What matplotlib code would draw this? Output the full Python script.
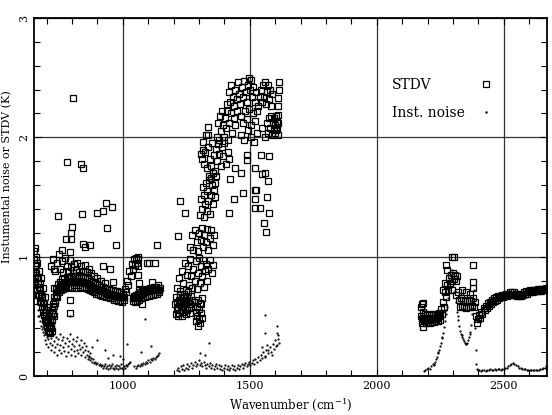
import numpy as np
import matplotlib
matplotlib.use("Agg")
import matplotlib.pyplot as plt
from matplotlib.ticker import MultipleLocator

plt.rcParams['font.family'] = ['DejaVu Serif']
plt.rcParams['mathtext.fontset'] = 'dejavuserif'

# ---------------- STDV (squares) ----------------
# band 1 (650-1054)
stdv1_x = [650,654,658,662,666,670,674,678,682,686,690,694,698,702,706,710,714,718,722,726,
           730,734,738,742,746,750,754,758,762,766,770,774,778,782,786,790,794,798,802,806,
           810,814,818,822,826,830,834,838,842,846,850,854,858,862,866,870,874,878,882,886,
           890,894,898,902,906,910,914,918,922,926,930,934,938,942,946,950,954,958,962,966,
           970,974,978,982,986,990,994,998,1002,1006,1010,1014,1018,1022,1026,1030,1034,1038,1042,1046,
           1050,1054]
stdv1_y = [1.05,0.79,0.93,0.72,0.83,0.68,0.78,0.62,0.67,0.54,0.61,0.47,0.55,0.41,0.48,0.37,0.47,0.40,0.55,0.52,
           0.66,0.61,0.73,0.66,0.77,0.70,0.79,0.72,0.81,0.73,0.82,0.74,0.83,0.75,0.82,0.74,0.84,0.75,0.83,0.76,
           0.84,0.74,0.83,0.76,0.85,0.75,0.84,0.74,0.83,0.75,0.82,0.74,0.83,0.73,0.81,0.72,0.80,0.71,0.79,0.70,
           0.78,0.69,0.77,0.69,0.76,0.68,0.75,0.67,0.75,0.67,0.74,0.66,0.73,0.66,0.73,0.65,0.72,0.65,0.72,0.64,
           0.71,0.64,0.71,0.63,0.70,0.63,0.70,0.62,0.69,0.64,0.73,0.70,0.80,0.76,0.88,0.84,0.94,0.90,0.98,0.93,
           0.99,0.95]
# band 1, middle of the band (652-1004)
stdv1m_x = [652,656,660,664,668,672,676,680,684,688,692,696,700,704,708,712,716,720,724,728,
            732,736,740,744,748,752,756,760,764,768,772,776,780,784,788,792,796,800,804,808,
            812,816,820,824,828,832,836,840,844,848,852,856,860,864,868,872,876,880,884,888,
            892,896,900,904,908,912,916,920,924,928,932,936,940,944,948,952,956,960,964,968,
            972,976,980,984,988,992,996,1000,1004]
stdv1m_y = [0.90,0.86,0.82,0.78,0.75,0.72,0.69,0.65,0.61,0.58,0.54,0.50,0.47,0.44,0.42,0.41,0.43,0.47,0.53,0.59,
            0.63,0.67,0.70,0.72,0.74,0.75,0.76,0.77,0.77,0.78,0.78,0.79,0.79,0.79,0.79,0.79,0.80,0.80,0.80,0.80,
            0.79,0.79,0.80,0.80,0.80,0.79,0.79,0.79,0.79,0.78,0.78,0.78,0.78,0.77,0.76,0.76,0.75,0.75,0.74,0.74,
            0.73,0.73,0.73,0.72,0.72,0.71,0.71,0.71,0.70,0.70,0.70,0.69,0.69,0.69,0.69,0.68,0.68,0.68,0.68,0.67,
            0.67,0.67,0.67,0.66,0.66,0.66,0.66,0.66,0.66]
# band 1, lower branch (1038-1146)
stdv1b_x = [1038,1042,1046,1050,1054,1058,1062,1066,1070,1074,1078,1082,1086,1090,1094,1098,1102,1106,1110,1114,
            1118,1122,1126,1130,1134,1138,1142,1146,1058,1060,1062,1058,1064,1060,
            1040,1044,1048,1052,1056,1060,1064,1068,1072,1076,1080,1084,1088,1092,1096,1100,1104,1108,1112,1116,
            1120,1124,1128,1132,1136,1140,1144]
stdv1b_y = [0.63,0.67,0.62,0.68,0.63,0.69,0.64,0.70,0.65,0.71,0.66,0.72,0.66,0.73,0.67,0.73,0.67,0.74,0.68,0.74,
            0.68,0.75,0.69,0.75,0.69,0.76,0.70,0.74,0.92,0.85,0.78,0.98,0.72,1.00,
            0.65,0.65,0.66,0.66,0.67,0.67,0.68,0.68,0.69,0.69,0.70,0.70,0.70,0.71,0.71,0.71,0.71,0.72,0.72,0.72,
            0.72,0.73,0.73,0.73,0.72,0.72,0.72]
# start column, fill of the dip and scatter above band 1
stdv1c_x = [650,651,652,653,654,655,656,716,724,732,740,748,752,760,766,772,778,784,790,796,
            802,808,814,820,826,834,842,850,858,866,876,886,898,912,930,
            660,664,668,672,676,680,684,688,692,696,700,704,708,712,716,720,724,728]
stdv1c_y = [0.72,0.98,0.85,1.07,0.92,0.76,1.00,0.92,0.98,0.88,0.95,1.02,0.90,0.96,0.87,0.99,0.92,0.88,0.97,0.91,
            0.86,0.94,0.89,0.95,0.87,0.92,0.88,0.93,0.87,0.90,0.86,0.84,0.82,0.80,0.78,
            0.95,0.68,0.88,0.63,0.82,0.58,0.74,0.51,0.66,0.45,0.58,0.38,0.52,0.36,0.50,0.38,0.60,0.50]
# outliers region 1
stdv1o_x = [804,780,835,843,745,839,898,922,934,957,800,796,776,796,938,973,843,871,851,760,
            792,922,950,961,792,792,729,729,1135,1095,1127,1103,1115,1075]
stdv1o_y = [2.33,1.79,1.78,1.74,1.34,1.36,1.37,1.38,1.45,1.42,1.25,1.20,1.15,1.15,1.24,1.10,1.11,1.10,1.08,1.06,
            1.04,0.92,0.90,0.79,0.53,0.64,0.74,0.90,1.10,0.95,0.95,0.95,0.79,0.60]

# region 2 (1206-1620)
stdv2_x = [1206,1208,1210,1212,1214,1216,1218,1220,1222,1224,1226,1228,1230,1232,1234,1236,1238,1240,1242,1244,
           1246,1248,1250,1252,1254,1256,1258,1260,1262,1264,1266,1268,1270,1272,
           1284,1286,1288,1290,1292,1294,1296,1298,1300,1302,1304,1306,1308,1310,1312,
           1214,1220,1226,1232,1238,1244,1248,1254,1258,1262,1266,1270,1274,1278,1282,1286,1290,1294,1298,1302,
           1306,1310,1314,1318,1322,1326,1330,1336,1342,1350,1356,
           1266,1272,1278,1284,1290,1296,1300,1306,1310,1316,1320,1326,1330,1336,1342,1348,1354,1360,
           1304,1308,1312,1314,1318,1320,1324,1326,1330,1332,1336,1338,1342,1346,1350,1354,1358,1362,
           1340,1348,1356,1364,1368,
           1318,1324,1330,1336,1342,1348,1352,1358,1362,1366,1372,1376,1380,1386,1390,1396,1400,1406,1412,1418,
           1370,1374,1378,1382,1386,1390,1394,1398,1402,1406,1410,1414,1418,1424,1430,1436,1442,1448,
           1410,1416,1420,1426,1432,1436,1442,1448,1452,1458,1462,1468,1474,1478,1484,1490,1494,1498,1502,1506,
           1510,1514,1520,1526,1532,1538,
           1466,1474,1480,1488,1496,1504,1512,1520,1528,
           1544,1548,1552,1556,1560,1564,1568,1572,1576,1580,1584,1588,
           1568,1572,1576,1580,1584,1588,1592,1594,1596,1598,1600,1602,1604,1606,1608,1610,1612,
           1464,1478,1492,1506,1518,1530,1546,1558,
           1306,1316,1316,1326,1336,1336,1310]
stdv2_y = [0.60,0.52,0.66,0.56,0.62,0.50,0.58,0.64,0.53,0.60,0.68,0.55,0.62,0.50,0.58,0.65,0.54,0.61,0.69,0.56,
           0.63,0.52,0.60,0.66,0.55,0.62,0.70,0.57,0.64,0.53,0.60,0.67,0.58,0.64,
           0.62,0.54,0.46,0.58,0.50,0.64,0.42,0.56,0.48,0.61,0.44,0.53,0.60,0.49,0.65,
           0.74,0.82,0.71,0.88,0.78,0.95,0.72,0.85,0.92,0.76,0.98,0.84,0.74,0.90,0.80,0.96,0.73,0.86,0.99,0.78,
           0.92,0.84,0.97,0.75,0.88,0.94,0.80,0.90,0.97,0.86,0.93,
           1.08,1.18,1.06,1.22,1.12,1.05,1.20,1.14,1.24,1.08,1.18,1.12,1.23,1.06,1.16,1.22,1.10,1.18,
           1.35,1.48,1.40,1.58,1.33,1.52,1.44,1.62,1.38,1.55,1.47,1.64,1.36,1.52,1.60,1.44,1.56,1.50,
           1.68,1.66,1.70,1.62,1.68,
           1.78,1.88,1.74,1.92,1.82,1.76,1.95,1.85,1.72,1.90,1.80,1.94,1.86,1.76,1.92,1.84,1.95,1.78,1.88,1.82,
           2.00,2.12,1.98,2.18,2.05,2.22,2.10,2.00,2.16,2.08,2.22,1.98,2.12,2.20,2.04,2.16,2.10,2.22,
           2.28,2.38,2.30,2.44,2.34,2.26,2.40,2.32,2.46,2.36,2.28,2.42,2.34,2.47,2.38,2.30,2.44,2.50,2.40,2.48,
           2.34,2.42,2.30,2.38,2.26,2.34,
           2.18,2.12,2.22,2.15,2.24,2.10,2.20,2.14,2.22,
           2.40,2.30,2.44,2.34,2.46,2.28,2.38,2.44,2.32,2.40,2.26,2.36,
           2.12,2.04,2.16,2.08,2.18,2.02,2.12,2.06,2.16,2.04,2.10,2.18,2.06,2.14,2.08,2.02,2.12,
           2.02,1.98,2.06,2.00,1.96,2.04,2.08,2.00,
           1.86,1.96,1.89,2.02,2.09,2.02,1.82]
# outliers region 2
stdv2o_x = [1226,1245,1218,1419,1438,1474,1422,1466,1521,1521,1521,1540,1568,1576,1556,1564,1572,1549,1545,1576,
            1489,1521,1489,1442,1560,1525,1615,1615,1612,1612,1612]
stdv2o_y = [1.47,1.37,1.17,1.37,1.48,1.53,1.65,1.70,1.56,1.48,1.41,1.41,1.50,1.37,1.28,1.21,1.63,1.69,1.85,1.84,
            1.81,1.74,1.85,1.74,1.70,1.56,2.46,2.40,2.33,2.26,2.19]

# region 3 (2172-2672)
stdv3_x = [2172,2176,2180,2184,2188,2192,2196,2200,2204,2208,2212,2216,2220,2224,2228,2232,2236,2240,2244,2248,
           2252,2256,2260,2264,2268,2272,2276,2280,2284,2288,2292,2296,2300,2304,2308,2312,2316,2320,2324,2328,
           2332,2336,2340,2344,2348,2352,2356,2360,2364,2368,2372,2376,2380,2384,2388,2392,2396,2400,2404,2408,
           2412,2416,2420,2424,2428,2432,2436,2440,2444,2448,2452,2456,2460,2464,2468,2472,2476,2480,2484,2488,
           2492,2496,2500,2504,2508,2512,2516,2520,2524,2528,2532,2536,2540,2544,2548,2552,2556,2560,2564,2568,
           2572,2576,2580,2584,2588,2592,2596,2600,2604,2608,2612,2616,2620,2624,2628,2632,2636,2640,2644,2648,
           2652,2656,2660,2664,2668,2672]
stdv3_y = [0.58,0.44,0.54,0.46,0.52,0.44,0.51,0.45,0.52,0.44,0.51,0.45,0.52,0.45,0.51,0.46,0.52,0.46,0.53,0.47,
           0.56,0.52,0.62,0.58,0.70,0.66,0.76,0.72,0.82,0.78,0.85,0.80,0.86,0.81,0.85,0.80,0.84,0.70,0.64,0.58,
           0.65,0.59,0.64,0.58,0.63,0.57,0.63,0.58,0.64,0.58,0.63,0.59,0.65,0.58,0.62,0.50,0.44,0.48,0.51,0.49,
           0.54,0.52,0.57,0.55,0.59,0.57,0.61,0.59,0.62,0.60,0.64,0.62,0.65,0.63,0.66,0.64,0.67,0.65,0.67,0.66,
           0.68,0.66,0.68,0.67,0.69,0.67,0.69,0.68,0.70,0.68,0.70,0.68,0.70,0.68,0.69,0.67,0.69,0.67,0.68,0.67,
           0.69,0.68,0.70,0.69,0.71,0.69,0.71,0.70,0.72,0.70,0.72,0.70,0.72,0.71,0.72,0.71,0.73,0.71,0.73,0.71,
           0.73,0.72,0.73,0.72,0.74,0.73]
stdv3m_x = [2174,2178,2182,2186,2190,2194,2198,2202,2206,2210,2214,2218,2222,2226,2230,2234,2238,2242,2246,2250]
stdv3m_y = [0.50,0.48,0.49,0.48,0.47,0.48,0.49,0.48,0.47,0.48,0.49,0.48,0.48,0.49,0.48,0.49,0.49,0.50,0.50,0.51]
stdv3o_x = [2294,2305,2278,2274,2380,2380,2380,2337,2183,2260,2268,2296,2310,2350,2365,2176,2180]
stdv3o_y = [1.00,1.00,0.89,0.93,0.93,0.79,0.74,0.72,0.61,0.72,0.78,0.72,0.68,0.70,0.69,0.60,0.41]

# ---------------- Instrumental noise (dots) ----------------
noise1_x = [650,652,655,658,662,666,670,674,678,682,686,
            688,692,694,698,700,704,706,710,712,716,718,722,724,728,730,734,736,740,742,746,748,752,754,758,
            760,764,766,770,772,776,778,782,784,788,790,794,796,800,802,806,808,812,814,818,820,824,826,830,
            834,836,840,844,846,850,852,856,860,862,866,870,
            864,868,872,876,880,884,888,892,896,900,904,908,
            912,916,920,924,928,932,936,940,944,948,952,956,960,964,968,972,976,980,984,988,
            992,996,1000,1004,1008,1012,1016,1020,1024,1028,
            1044,1050,1056,1060,1066,1070,1076,1080,1086,1090,1096,1100,1106,1110,1116,1120,1126,1130,1136,1140,1144,
            667,687,792,897,1015,1088,930,960,1000,990,1070,940,880,1110]
noise1_y = [0.82,0.75,0.70,0.66,0.60,0.55,0.50,0.46,0.42,0.39,0.37,
            0.34,0.30,0.36,0.27,0.33,0.24,0.31,0.35,0.28,0.22,0.32,0.26,0.34,0.20,0.29,0.24,0.33,0.18,0.27,0.31,0.22,0.35,0.26,0.19,
            0.30,0.24,0.33,0.21,0.28,0.17,0.32,0.25,0.20,0.29,0.35,0.23,0.18,0.27,0.31,0.21,0.25,0.17,0.29,0.22,0.33,0.19,0.26,0.23,
            0.30,0.18,0.24,0.20,0.28,0.16,0.22,0.25,0.18,0.21,0.16,0.19,
            0.14,0.17,0.13,0.15,0.12,0.14,0.11,0.12,0.10,0.11,0.09,0.10,
            0.08,0.09,0.07,0.08,0.10,0.07,0.08,0.06,0.09,0.07,0.08,0.10,0.07,0.06,0.08,0.07,0.09,0.06,0.08,0.07,
            0.10,0.07,0.06,0.08,0.07,0.09,0.08,0.10,0.11,0.12,
            0.08,0.07,0.08,0.09,0.08,0.10,0.09,0.11,0.10,0.12,0.11,0.13,0.12,0.14,0.13,0.15,0.14,0.16,0.17,0.18,0.19,
            0.50,0.41,0.50,0.30,0.27,0.48,0.22,0.18,0.14,0.17,0.20,0.15,0.24,0.25]
noise2_x = [1212,1218,1222,1228,1232,1238,1242,1248,1252,1258,1262,1268,1272,1278,1282,1288,1292,1298,1302,1308,
            1312,1318,1322,1328,1332,1338,1342,1348,1352,1358,1362,1368,1372,1378,1382,1388,1392,1398,1402,1408,
            1412,1418,1422,1428,1432,1438,1442,1448,1452,1458,1462,1468,1472,1478,1482,1488,1492,1498,1502,1508,
            1512,1518,1522,1528,1532,1538,1542,1548,1549,1552,1558,1560,1562,1568,1570,1572,1578,1582,1588,1590,
            1596,1600,1604,1607,1610,1612,1614,
            1339,1304,1324,1560,1607,1560,1607]
noise2_y = [0.05,0.07,0.04,0.08,0.06,0.09,0.05,0.07,0.10,0.06,0.08,0.11,0.07,0.09,0.12,0.08,0.10,0.13,0.09,0.11,
            0.08,0.12,0.09,0.07,0.10,0.08,0.11,0.07,0.09,0.06,0.08,0.10,0.07,0.09,0.06,0.08,0.05,0.07,0.09,0.06,
            0.08,0.05,0.07,0.09,0.06,0.08,0.05,0.07,0.09,0.06,0.08,0.10,0.07,0.09,0.11,0.08,0.10,0.12,0.09,0.11,
            0.13,0.10,0.14,0.12,0.16,0.13,0.18,0.15,0.24,0.20,0.17,0.16,0.22,0.26,0.19,0.22,0.24,0.20,0.18,0.27,
            0.23,0.30,0.25,0.26,0.31,0.34,0.28,
            0.28,0.19,0.18,0.51,0.42,0.36,0.36]
noise3_x = [2184,2190,2196,2202,2208,2214,2220,2224,2228,2232,2236,2240,2244,2248,2252,2256,2260,2264,2268,2272,
            2276,2280,2284,2288,2292,2296,2300,2304,2308,2312,2316,2320,2324,2328,2332,2336,2340,2344,2348,2352,
            2356,2360,2364,2368,2372,2376,2380,2383,2386,2388,2390,2392,2396,2400,
            2226,2242,2258,2274,2318,2334,2350,2366,2378,
            2404,2410,2416,2422,2428,2434,2440,2446,2452,2458,2464,2470,2476,2482,2488,2494,2500,2506,2512,2518,
            2524,2530,2536,2542,2548,2554,2560,2566,2572,2578,2584,2590,2596,2602,2608,2614,2620,2626,2632,2638,
            2644,2650,2656,2662,2668]
noise3_y = [0.04,0.05,0.06,0.07,0.06,0.08,0.10,0.09,0.12,0.14,0.16,0.19,0.22,0.25,0.28,0.32,0.36,0.41,0.46,0.52,
            0.58,0.65,0.72,0.79,0.85,0.89,0.86,0.79,0.71,0.62,0.54,0.47,0.42,0.38,0.35,0.33,0.31,0.29,0.28,0.27,
            0.28,0.30,0.33,0.37,0.43,0.52,0.62,0.72,0.60,0.40,0.22,0.10,0.06,0.05,
            0.10,0.20,0.33,0.55,0.50,0.34,0.27,0.35,0.57,
            0.05,0.04,0.05,0.05,0.04,0.05,0.05,0.06,0.05,0.05,0.06,0.05,0.06,0.06,0.05,0.06,0.06,0.07,0.07,0.08,
            0.09,0.10,0.11,0.10,0.09,0.08,0.07,0.07,0.06,0.06,0.06,0.05,0.05,0.05,0.05,0.05,0.05,0.05,0.05,0.05,
            0.06,0.06,0.07,0.07,0.08]

xticks = [1000, 1500, 2000, 2500]
yticks = [0, 1, 2, 3]

stdv_x = np.concatenate([stdv1_x, stdv1m_x, stdv1b_x, stdv1c_x, stdv1o_x, stdv2_x, stdv2o_x,
                         stdv3_x, stdv3m_x, stdv3o_x])
stdv_y = np.concatenate([stdv1_y, stdv1m_y, stdv1b_y, stdv1c_y, stdv1o_y, stdv2_y, stdv2o_y,
                         stdv3_y, stdv3m_y, stdv3o_y])
noise_x = np.concatenate([noise1_x, noise2_x, noise3_x])
noise_y = np.concatenate([noise1_y, noise2_y, noise3_y])

fig = plt.figure(figsize=(5.52, 4.15), dpi=100)
ax = fig.add_axes([34/552, 39/415, 513/552, 358/415])

ax.plot(stdv_x, stdv_y, 's', mfc='none', mec='k', ms=4.9, mew=0.9, ls='none', label='STDV', zorder=3)
ax.plot(noise_x, noise_y, '.', color='k', ms=1.2, ls='none', label='Inst. noise', zorder=4)

ax.set_xlim(650, 2670)
ax.set_ylim(0, 3)
ax.set_xticks(xticks)
ax.set_yticks(yticks)
ax.xaxis.set_minor_locator(MultipleLocator(100))
ax.yaxis.set_minor_locator(MultipleLocator(0.2))
ax.tick_params(which='both', direction='in', top=True, right=True, labelsize=8)
ax.tick_params(which='major', length=5, width=0.8)
ax.tick_params(which='minor', length=4, width=0.8)
for lab in ax.get_yticklabels():
    lab.set_rotation(90)
    lab.set_va('center')
ax.grid(True, which='major', color='#333333', lw=0.9)
ax.set_axisbelow(True)
for s in ax.spines.values():
    s.set_linewidth(1.3)

ax.set_xlabel('Wavenumber (cm$^{-1}$)', fontsize=8.5)
ax.set_ylabel('Instumental noise or STDV (K)', fontsize=8)
ax.yaxis.set_label_coords(-0.042, 0.556)

leg = ax.legend(loc='upper left', bbox_to_anchor=(0.685, 0.852), frameon=False, markerfirst=False,
                fontsize=10, handlelength=1.2, handletextpad=0.9, labelspacing=1.0, borderpad=0,
                markerscale=1.0)
for h in leg.legend_handles:
    h.set_markersize(4.5 if h.get_marker() == 's' else 1.5)

# left-align legend texts while keeping the handles in one column
fig.canvas.draw()
renderer = fig.canvas.get_renderer()
dpicor = renderer.points_to_pixels(1.0)
widths = [t.get_window_extent(renderer).width for t in leg.get_texts()]
maxw = max(widths)
for col in leg._legend_handle_box.get_children():
    col.align = 'left'
    for row, w in zip(col.get_children(), widths):
        row.sep = row.sep + (maxw - w) / dpicor

fig.savefig('out.png', dpi=100)
